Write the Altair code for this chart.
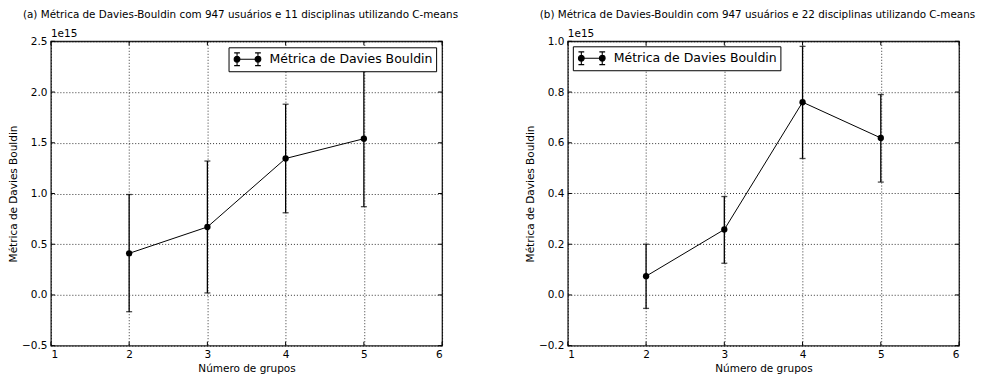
import altair as alt
import pandas as pd

FONT = "DejaVu Sans"
W, H = 392, 305

grupos = [2, 3, 4, 5]
serie = "Métrica de Davies Bouldin"

# painel (a): valores em unidades de 1e15
a_media = [0.41, 0.67, 1.345, 1.54]
a_inf = [-0.165, 0.02, 0.81, 0.87]
a_sup = [0.99, 1.32, 1.88, 2.21]

# painel (b): valores em unidades de 1e15
b_media = [0.074, 0.258, 0.76, 0.619]
b_inf = [-0.053, 0.125, 0.538, 0.445]
b_sup = [0.20, 0.388, 0.98, 0.79]

x_ticks = [1, 2, 3, 4, 5, 6]
a_yticks = [-0.5, 0.0, 0.5, 1.0, 1.5, 2.0, 2.5]
b_yticks = [-0.2, 0.0, 0.2, 0.4, 0.6, 0.8, 1.0]

a_title = "(a) Métrica de Davies-Bouldin com 947 usuários e 11 disciplinas utilizando C-means"
b_title = "(b) Métrica de Davies-Bouldin com 947 usuários e 22 disciplinas utilizando C-means"
ytitle = "Métrica de Davies Bouldin"
xtitle = "Número de grupos"

# custom legend symbol: line with two error-bar points (unit r = sqrt(size)/2 = 8px)
def circ(cx, r):
    return f"M{cx + r},0 A{r},{r} 0 1,1 {cx - r},0 A{r},{r} 0 1,1 {cx + r},0 Z "

def ebar(cx, h, w):
    return (f"M{cx},{-h} L{cx},{h} M{cx - w},{-h} L{cx + w},{-h} "
            f"M{cx - w},{h} L{cx + w},{h} ")

SYMBOL = ("M-1.31,0 L1.31,0 " + circ(-1.31, 0.36) + circ(1.31, 0.36)
          + ebar(-1.31, 0.8, 0.36) + ebar(1.31, 0.8, 0.36))


def panel(media, inf, sup, yticks, title, legend_orient, legend_offset):
    df = pd.DataFrame({"grupos": grupos, "media": media, "inf": inf,
                       "sup": sup, "serie": [serie] * len(grupos)})
    xsc = alt.Scale(domain=[x_ticks[0], x_ticks[-1]], nice=False, zero=False)
    xs = alt.X("grupos:Q", scale=xsc,
               axis=alt.Axis(values=x_ticks, format="d", title=xtitle))
    ys = alt.Scale(domain=[yticks[0], yticks[-1]], nice=False, zero=False)
    yax = alt.Axis(values=yticks, format=".1f", title=ytitle,
                   titleX=-37, titleY=H / 2, titleAngle=270, titleAlign="center",
                   titleBaseline="middle")
    base = alt.Chart(df)
    rule = base.mark_rule(color="black", strokeWidth=1.3).encode(
        x=xs, y=alt.Y("inf:Q", scale=ys, axis=yax, title=ytitle), y2="sup:Q")
    cap_lo = base.mark_tick(orient="horizontal", size=6, thickness=1.3, color="black").encode(
        x=xs, y=alt.Y("inf:Q", scale=ys, title=ytitle))
    cap_hi = base.mark_tick(orient="horizontal", size=6, thickness=1.3, color="black").encode(
        x=xs, y=alt.Y("sup:Q", scale=ys, title=ytitle))
    line = base.mark_line(color="black", strokeWidth=1).encode(
        x=xs, y=alt.Y("media:Q", scale=ys, title=ytitle))
    pts = base.mark_point(filled=True, size=40, opacity=1).encode(
        x=xs, y=alt.Y("media:Q", scale=ys, title=ytitle),
        color=alt.Color("serie:N", scale=alt.Scale(range=["black"]),
                        legend=alt.Legend(
                            title=None, orient=legend_orient, offset=legend_offset,
                            symbolType=SYMBOL, symbolSize=256, symbolOffset=7,
                            symbolFillColor="black", symbolStrokeColor="black",
                            symbolStrokeWidth=1.1, symbolOpacity=1,
                            labelFont=FONT, labelFontSize=12.5, labelColor="black",
                            labelLimit=400,
                            fillColor="white", strokeColor="black", padding=3,
                            cornerRadius=0, labelOffset=13)))
    # inward tick marks on all four sides (matplotlib classic style)
    xt = alt.Chart(pd.DataFrame({"v": x_ticks}))
    yt = alt.Chart(pd.DataFrame({"v": yticks}))
    tick_top = xt.mark_rule(color="black", strokeWidth=1).encode(
        x=alt.X("v:Q", scale=xsc, title=xtitle), y=alt.value(0), y2=alt.value(4))
    tick_bot = xt.mark_rule(color="black", strokeWidth=1).encode(
        x=alt.X("v:Q", scale=xsc, title=xtitle), y=alt.value(H), y2=alt.value(H - 4))
    tick_l = yt.mark_rule(color="black", strokeWidth=1).encode(
        y=alt.Y("v:Q", scale=ys, title=ytitle), x=alt.value(0), x2=alt.value(4))
    tick_r = yt.mark_rule(color="black", strokeWidth=1).encode(
        y=alt.Y("v:Q", scale=ys, title=ytitle), x=alt.value(W), x2=alt.value(W - 4))
    off = alt.Chart(pd.DataFrame({"t": ["1e15"]})).mark_text(
        align="left", baseline="bottom", font=FONT, fontSize=10.5, color="black").encode(
        x=alt.value(0), y=alt.value(-2), text="t:N")
    # invisible anchor fixing the left extent of the panel bounds
    anchor = alt.Chart(pd.DataFrame({"t": [""]})).mark_rule(opacity=0, strokeOpacity=0).encode(
        x=alt.value(-42), y=alt.value(0), y2=alt.value(1))
    return alt.layer(rule, cap_lo, cap_hi, line, pts, tick_top, tick_bot, tick_l,
                     tick_r, off, anchor).properties(
        width=W, height=H,
        title=alt.Title(title, font=FONT, fontSize=10.4, fontWeight="normal",
                        color="black", offset=9, anchor="middle", frame="group",
                        dx=-6))


left = panel(a_media, a_inf, a_sup, a_yticks, a_title, "top-right", 6)
right = panel(b_media, b_inf, b_sup, b_yticks, b_title, "top-left", 5)

chart = alt.hconcat(left, right, spacing=126).properties(
    bounds="flush", padding=0
).resolve_scale(color="independent", y="independent").resolve_legend(
    color="independent"
).configure_view(
    stroke="#222222", strokeWidth=1.3
).configure_axis(
    labelFont=FONT, titleFont=FONT, labelFontSize=10.5, titleFontSize=10.5,
    labelColor="black", titleColor="black", titleFontWeight="normal",
    domain=False, ticks=False, labelPadding=4,
    grid=True, gridColor="black", gridDash=[1, 2], gridWidth=0.8, gridOpacity=1
).configure_axisX(titlePadding=3)

chart.save("out.html", embed_options={"renderer": "svg", "actions": False})
